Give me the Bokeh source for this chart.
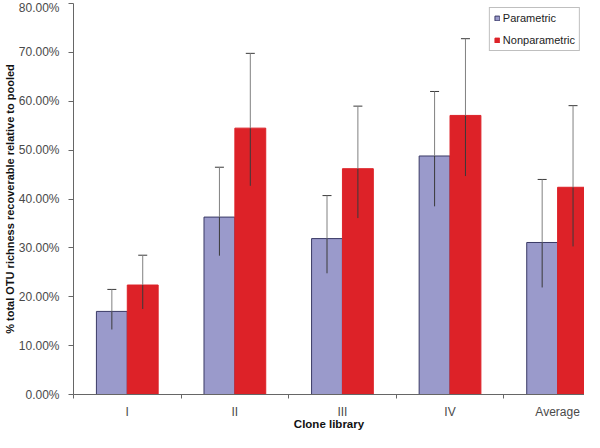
from bokeh.plotting import figure
from bokeh.models import (Range1d, FixedTicker, NumeralTickFormatter, ColumnDataSource,
                          Whisker, TeeHead, Legend, LegendItem)
from bokeh.embed import file_html
from bokeh.resources import INLINE

categories = ["I", "II", "III", "IV", "Average"]
parametric = [0.170, 0.363, 0.319, 0.488, 0.311]
param_low = [0.133, 0.284, 0.248, 0.385, 0.219]
param_high = [0.215, 0.465, 0.407, 0.620, 0.440]
nonparametric = [0.224, 0.545, 0.462, 0.571, 0.424]
nonpar_low = [0.175, 0.427, 0.361, 0.447, 0.303]
nonpar_high = [0.285, 0.698, 0.590, 0.728, 0.591]
y_ticks = [0.0, 0.1, 0.2, 0.3, 0.4, 0.5, 0.6, 0.7, 0.8]

FONT = "Liberation Sans"
PAR_FILL = "#9a9acb"
PAR_LINE = "#3a3a66"
NON_FILL = "#dd2228"
BAR_W = 0.287

n = len(categories)
centers = [i + 0.5 for i in range(n)]
xp = [c - BAR_W / 2 for c in centers]
xn = [c + BAR_W / 2 for c in centers]

src_p = ColumnDataSource(dict(x=xp, top=parametric, lo=param_low, hi=param_high))
src_n = ColumnDataSource(dict(x=xn, top=nonparametric, lo=nonpar_low, hi=nonpar_high))

# the reference's plot area runs past its right edge: only ~4.75 of 5 categories show
p = figure(width=584, height=432, output_backend="svg", toolbar_location=None,
           x_range=Range1d(0, 4.75), y_range=Range1d(0, 0.8),
           min_border_left=71, min_border_right=0, min_border_top=3, min_border_bottom=30)
p.outline_line_color = None
p.xgrid.visible = False
p.ygrid.visible = False

r_p = p.vbar(x="x", top="top", width=BAR_W, source=src_p, fill_color=PAR_FILL,
             line_color=PAR_LINE, line_width=1)
r_n = p.vbar(x="x", top="top", width=BAR_W, source=src_n, fill_color=NON_FILL,
             line_color=NON_FILL, line_width=1)

for src in (src_p, src_n):
    p.segment(x0="x", y0="lo", x1="x", y1="top", source=src, line_color="#3a3a3a", line_width=1)
    p.segment(x0="x", y0="top", x1="x", y1="hi", source=src, line_color="#808080", line_width=1)
    w = Whisker(base="x", lower="lo", upper="hi", source=src, dimension="height",
                line_alpha=0,
                upper_head=TeeHead(size=9, line_color="#3a3a3a", line_width=1),
                lower_head=TeeHead(size=9, line_color="#3a3a3a", line_width=1))
    p.add_layout(w)

# X axis
xa = p.xaxis[0]
xa.ticker = FixedTicker(ticks=centers, minor_ticks=list(range(n + 1)))
xa.major_label_overrides = {c: lab for c, lab in zip(centers, categories)}
xa.major_tick_out = 0
xa.major_tick_in = 0
xa.minor_tick_out = 4
xa.minor_tick_in = 0
xa.minor_tick_line_color = "#666666"
xa.axis_line_color = "#666666"
xa.major_label_standoff = 6
xa.major_label_text_font = FONT
xa.major_label_text_font_size = "12px"
xa.major_label_text_color = "#4a4a4a"
xa.axis_label = "Clone library"
xa.axis_label_text_font = FONT
xa.axis_label_text_font_style = "bold"
xa.axis_label_text_font_size = "11.5px"
xa.axis_label_text_color = "#111111"
xa.axis_label_standoff = -4

# Y axis
ya = p.yaxis[0]
ya.ticker = FixedTicker(ticks=y_ticks, minor_ticks=[])
ya.formatter = NumeralTickFormatter(format="0.00%")
ya.major_tick_out = 5
ya.major_tick_in = 0
ya.major_tick_line_color = "#666666"
ya.axis_line_color = "#666666"
ya.major_label_standoff = 9
ya.major_label_text_font = FONT
ya.major_label_text_font_size = "12px"
ya.major_label_text_color = "#4a4a4a"
ya.axis_label = "% total OTU richness recoverable relative to pooled"
ya.axis_label_text_font = FONT
ya.axis_label_text_font_style = "bold"
ya.axis_label_text_font_size = "11px"
ya.axis_label_text_color = "#111111"
ya.axis_label_standoff = 0

legend = Legend(items=[LegendItem(label="Parametric", renderers=[r_p]),
                       LegendItem(label="Nonparametric", renderers=[r_n])],
                location="top_right", margin=4, padding=4, spacing=10,
                glyph_width=6, glyph_height=6, label_standoff=3,
                label_text_font=FONT, label_text_font_size="11px",
                label_text_color="#222222", label_height=12,
                border_line_color="#808080", border_line_width=1,
                background_fill_color="white", background_fill_alpha=1)
p.add_layout(legend)

open("out.html", "w").write(file_html(p, INLINE))
